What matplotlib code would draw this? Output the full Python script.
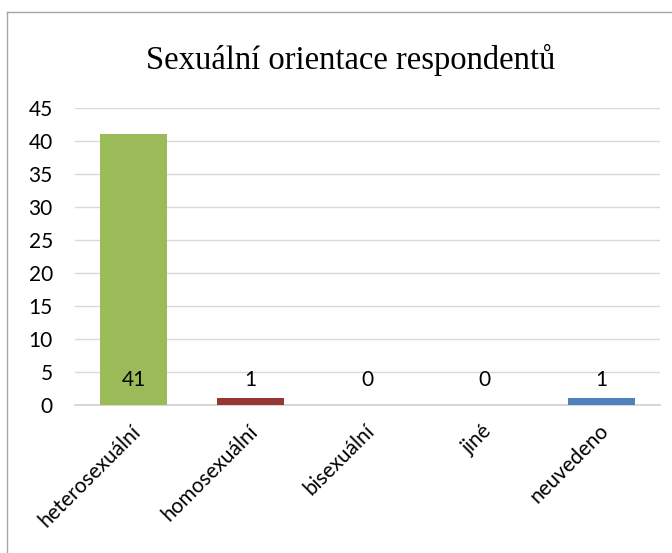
import numpy as np
import matplotlib
matplotlib.use("Agg")
from matplotlib import pyplot as plt
from matplotlib.lines import Line2D
import matplotlib.transforms as mtransforms

# data
categories = ['heterosexuální', 'homosexuální', 'bisexuální', 'jiné', 'neuvedeno']
counts = [41, 1, 0, 0, 1]
colors = ['#9BBB59', '#953735', '#C0504D', '#8064A2', '#4F81BD']
yticks = [0, 5, 10, 15, 20, 25, 30, 35, 40, 45]

lab_font = 'Lato'
lab_size = 15

fig = plt.figure(figsize=(6.72, 5.53), dpi=100)
ax = fig.add_axes([0.1116, 0.2676, 0.8705, 0.5371])

x = np.arange(len(categories))
ax.bar(x, counts, width=0.57, color=colors, zorder=3)

ax.set_xlim(-0.5, len(categories) - 0.5)
ax.set_ylim(0, 45)
ax.set_yticks(yticks)
ax.set_yticklabels([str(t) for t in yticks], fontsize=lab_size, fontname=lab_font)
ax.grid(axis='y', color='#D9D9D9', linewidth=1, zorder=0)
ax.tick_params(axis='both', length=0)
ax.tick_params(axis='y', pad=16)

for s in ['top', 'right', 'left']:
    ax.spines[s].set_visible(False)
ax.spines['bottom'].set_color('#D0D0D0')
ax.spines['bottom'].set_linewidth(1.2)

# value labels, all sitting just above the baseline
for xi, v in zip(x, counts):
    ax.annotate(str(v), (xi, 0), xytext=(0, 18), textcoords='offset points',
                ha='center', va='center', fontsize=lab_size, fontname=lab_font)

ax.set_xticks(x)
ax.set_xticklabels(categories, rotation=45, ha='right', va='center',
                   rotation_mode='anchor', fontsize=lab_size, fontname=lab_font)
offset = mtransforms.ScaledTranslation(3 / 72, -13 / 72, fig.dpi_scale_trans)
for lbl in ax.get_xticklabels():
    lbl.set_transform(lbl.get_transform() + offset)

fig.text(0.522, 0.891, 'Sexuální orientace respondentů', ha='center', va='center',
         fontsize=23.5, fontname='Liberation Serif')

# chart frame (top and left edges)
fig.add_artist(Line2D([7 / 672, 1], [1 - 12 / 553, 1 - 12 / 553],
                      transform=fig.transFigure, color='#A6A6A6', linewidth=1))
fig.add_artist(Line2D([7 / 672, 7 / 672], [0, 1 - 12 / 553],
                      transform=fig.transFigure, color='#A6A6A6', linewidth=1))

fig.savefig('out.png', dpi=100)
